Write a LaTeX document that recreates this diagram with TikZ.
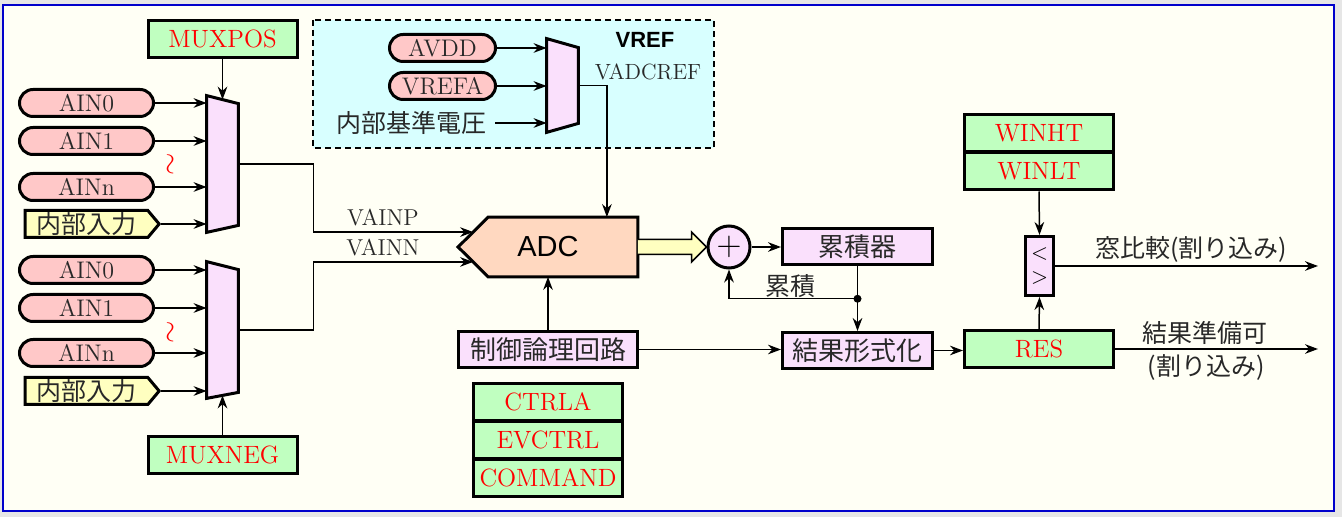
\documentclass[tikz,border=0pt]{standalone}
\usepackage{fontspec}
\newfontfamily\jpfont{Noto Sans CJK JP}
\newfontfamily\hvfont{Liberation Sans}
\usetikzlibrary{shapes.misc,shapes.symbols,arrows.meta,calc}

\definecolor{fondo}{RGB}{255,255,245}
\definecolor{marco}{RGB}{0,0,204}
\definecolor{gris}{RGB}{230,230,230}
\definecolor{rosa}{RGB}{255,200,200}
\definecolor{verde}{RGB}{192,255,192}
\definecolor{lila}{RGB}{250,224,252}
\definecolor{amarillo}{RGB}{255,255,192}
\definecolor{melocoton}{RGB}{255,216,192}
\definecolor{celeste}{RGB}{216,255,255}
\definecolor{texto}{RGB}{40,40,40}

\tikzset{
  pill/.style={rounded rectangle, draw, line width=1.5pt, fill=rosa, minimum width=67pt, minimum height=13.5pt, inner sep=0pt, text=texto, font=\fontsize{12}{13}\selectfont},
  tagbox/.style={signal, signal to=east, signal pointer angle=100, draw, line width=1.5pt, fill=amarillo, minimum width=67pt, minimum height=13.5pt, inner sep=0pt, text=texto, font=\jpfont\fontsize{12.5}{13}\selectfont},
  reg/.style={draw, line width=1.5pt, fill=verde, minimum width=74.5pt, minimum height=18.5pt, inner sep=0pt, text=red, font=\fontsize{12.5}{13}\selectfont},
  blk/.style={draw, line width=1.5pt, fill=lila, minimum width=75pt, minimum height=18pt, inner sep=0pt, text=texto, font=\jpfont\fontsize{13}{14}\selectfont},
  muxarea/.style={minimum width=15.5pt, inner sep=0pt},
  mux/.style={draw, line width=1.5pt, fill=lila},
  arr/.style={-{Stealth[length=6.5pt,width=4.8pt]}, line width=0.75pt},
  lbl/.style={text=texto, font=\jpfont\fontsize{12.5}{13}\selectfont, inner sep=0pt},
  sublbl/.style={text=texto, font=\fontsize{11.5}{12}\selectfont, inner sep=0pt},
  wavy/.style={text=red, rotate=90, font=\fontsize{15}{15}\selectfont, inner sep=0pt},
}

\begin{document}
\begin{tikzpicture}[x=0.5pt,y=-0.5pt]
    % Fondo y marco
    \fill[gris] (0,0) rectangle (1342,517);
    \useasboundingbox (0,0) rectangle (1342,517);
    \draw[marco, line width=1.2pt, fill=fondo] (3,5) rectangle (1334,511);

    % Zona de referencia
    \draw[dash pattern=on 3pt off 2pt, line width=0.75pt, fill=celeste] (313,20) rectangle (714,148);

    % Entradas analogicas
    \foreach \n/\t/\y in {ain0a/AIN0/103, ain1a/AIN1/141, ainna/AINn/187, ain0b/AIN0/270, ain1b/AIN1/308, ainnb/AINn/353}
        \node[pill] (\n) at (86.5,\y) {\t};
    \node[tagbox] (inta) at (86.5,224) {内部入力};
    \node[tagbox] (intb) at (86.5,391) {内部入力};
    \node[wavy] (wra) at (172,164) {$\sim$};
    \node[wavy] (wrb) at (172,332) {$\sim$};

    % Multiplexores
    \node[muxarea, minimum height=68pt] (mp) at (222.5,164) {};
    \filldraw[mux] (mp.north west) -- ([yshift=-4pt]mp.north east) -- ([yshift=3.5pt]mp.south east) -- (mp.south west) -- cycle;
    \node[muxarea, minimum height=68pt] (mn) at (222.5,330) {};
    \filldraw[mux] (mn.north west) -- ([yshift=-4pt]mn.north east) -- ([yshift=3pt]mn.south east) -- (mn.south west) -- cycle;
    \node[reg] (muxpos) at (222.5,39) {MUXPOS};
    \node[reg] (muxneg) at (222.5,455) {MUXNEG};
    \foreach \n in {ain0a,ain1a,ainna,inta}
        \draw[arr] (\n.east) -- (\n.east -| mp.west);
    \foreach \n in {ain0b,ain1b,ainnb,intb}
        \draw[arr] (\n.east) -- (\n.east -| mn.west);
    \draw[arr] (muxpos.south) -- ([yshift=-2pt]mp.north);
    \draw[arr] (muxneg.north) -- ([yshift=1.5pt]mn.south);

    % Referencia de tension
    \node[pill, minimum width=53pt] (avdd) at (442.5,48) {AVDD};
    \node[pill, minimum width=53pt] (vrefa) at (442.5,86) {VREFA};
    \node[lbl, anchor=east, inner sep=4pt] (intref) at (495,123) {内部基準電圧};
    \node[muxarea, minimum height=46.5pt] (mv) at (562.5,85.5) {};
    \filldraw[mux] (mv.north west) -- ([yshift=-4.5pt]mv.north east) -- ([yshift=4.5pt]mv.south east) -- (mv.south west) -- cycle;
    \foreach \n in {avdd,vrefa,intref}
        \draw[arr] (\n.east) -- (\n.east -| mv.west);
    \node[font=\hvfont\bfseries\fontsize{11}{12}\selectfont, inner sep=0pt] (vref) at (645,40) {VREF};
    \node[sublbl, font=\fontsize{11}{12}\selectfont] (vadcref) at (648,72) {VADCREF};

    % Convertidor
    \node[minimum width=89.5pt, minimum height=29.5pt, inner sep=0pt] (adc) at (548,247) {};
    \filldraw[line width=1.5pt, fill=melocoton] (adc.west) -- ([xshift=15pt]adc.north west) -- (adc.north east) -- (adc.south east) -- ([xshift=15pt]adc.south west) -- cycle;
    \node[font=\hvfont\fontsize{14.5}{16}\selectfont, inner sep=0pt] (adclbl) at (adc) {ADC};
    \draw[arr] (mv.east) -| ([xshift=-15.5pt]adc.north east);
    \draw[arr] (mp.east) -- ++(75,0) |- ($(adc.west)!0.5!([xshift=15pt]adc.north west)$);
    \draw[arr] (mn.east) -- ++(75,0) |- ($(adc.west)!0.5!([xshift=15pt]adc.south west)$);
    \node[sublbl] (vainp) at (383,218) {VAINP};
    \node[sublbl] (vainn) at (383,248) {VAINN};

    % Control
    \node[blk, minimum width=89.5pt] (ctl) at (548,349.5) {制御論理回路};
    \node[reg] (ctrla) at (548,402) {CTRLA};
    \node[reg] (evctrl) at (548,440) {EVCTRL};
    \node[reg] (command) at (548,478) {COMMAND};
    \draw[arr] (ctl.north) -- (adc.south);

    % Acumulador
    \node[circle, draw, line width=1.5pt, fill=lila, minimum size=21pt, inner sep=0pt, font=\fontsize{18}{18}\selectfont] (sum) at (729,247) {$+$};
    \filldraw[fill=amarillo, line width=0.75pt] ([yshift=-3.75pt]adc.east) -- ([xshift=-7.5pt,yshift=-3.75pt]sum.west) -- ([xshift=-7.5pt,yshift=-7.5pt]sum.west) -- (sum.west) -- ([xshift=-7.5pt,yshift=7.5pt]sum.west) -- ([xshift=-7.5pt,yshift=3.75pt]sum.west) -- ([yshift=3.75pt]adc.east);
    \node[blk] (acc) at (857.5,247) {累積器};
    \node[blk] (fmt) at (857.5,350.5) {結果形式化};
    \draw[arr] (sum.east) -- (acc.west);
    \coordinate (dot) at ($(acc.south)!0.5!(fmt.north)$);
    \draw[arr] (acc.south) -- (fmt.north);
    \fill (dot) circle (2pt);
    \draw[arr] (dot) -| (sum.south);
    \node[lbl] (acclbl) at (790,286) {累積};
    \draw[arr] (ctl.east) -- (ctl.east -| fmt.west);

    % Resultado y comparador de ventana
    \node[reg] (res) at (1039,349) {RES};
    \node[reg] (winht) at (1039,133) {WINHT};
    \node[reg] (winlt) at (1039,171.5) {WINLT};
    \node[draw, line width=1.5pt, fill=lila, minimum width=14pt, minimum height=29.5pt, inner sep=0pt, align=center, font=\fontsize{11}{10}\selectfont] (cmp) at (1039.5,266) {$<$\\[2pt]$>$};
    \draw[arr] (fmt.east) -- (fmt.east -| res.west);
    \draw[arr] (res.north) -- (cmp.south);
    \draw[arr] (winlt.south) -- (cmp.north);
    \coordinate (irqw) at (1318,266);
    \coordinate (irqr) at (1318,349);
    \draw[arr] (cmp.east) -- (irqw);
    \draw[arr] (res.east) -- (irqr);
    \node[lbl] (winlbl) at (1191,249) {窓比較(割り込み)};
    \node[lbl] (reslbl) at (1205,333) {結果準備可};
    \node[lbl] (irqlbl) at (1206,367) {(割り込み)};
\end{tikzpicture}
\end{document}
